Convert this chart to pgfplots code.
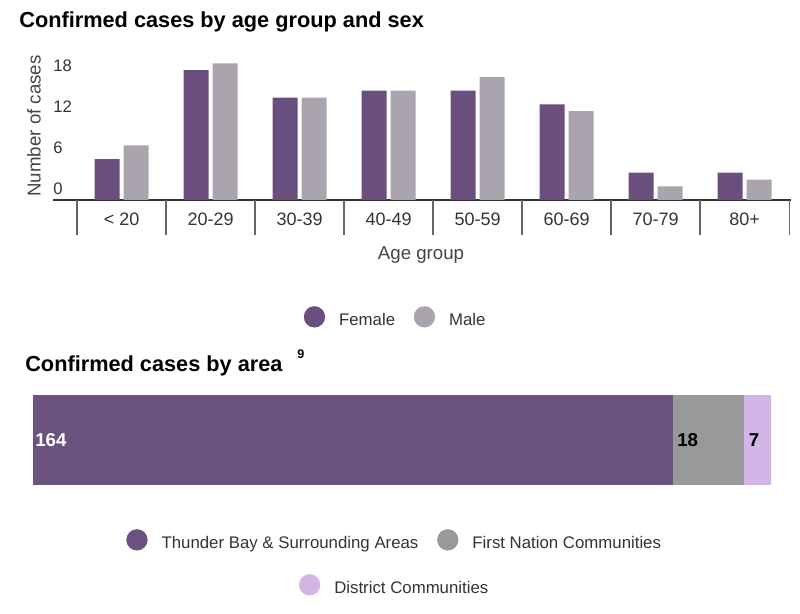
\documentclass[border=0pt]{standalone}
\usepackage{pgfplots}
\pgfplotsset{compat=1.18}
\usepackage{fontspec}
\setmainfont{Liberation Sans}

\definecolor{femalec}{HTML}{6A4F7E}
\definecolor{malec}{HTML}{A9A4AD}
\definecolor{tbc}{HTML}{6B527F}
\definecolor{fnc}{HTML}{999999}
\definecolor{distc}{HTML}{D0B5E6}
\definecolor{txt}{HTML}{333333}
\definecolor{lbl}{HTML}{444444}

% stacked xbar labels sit at the segment middle: shift them to its left end
\tikzset{
  barlabel/.style={anchor=west, inner sep=0pt,
    font=\bfseries\fontsize{14}{16}\selectfont},
}
\pgfplotsset{
  every axis title shift=0pt,
  dotlegend/.style={legend image code/.code={\fill[##1] (0pt,2.4pt) circle (8pt);}},
  dotlegendstyle/.style={
    legend style={draw=none, fill=none, inner sep=0pt, legend columns=-1,
      anchor=center, font=\fontsize{12.6}{15}\selectfont, text=txt,
      cells={inner sep=0pt},
      /tikz/every odd column/.append style={column sep=8.5pt},
      /tikz/every even column/.append style={column sep=12pt}},
    legend cell align=left},
}

\begin{document}
\begin{tikzpicture}
\useasboundingbox (0,0) rectangle (600pt,460.5pt);

% age group and sex
\begin{axis}[
  at={(39.75pt,310.5pt)}, anchor=south west,
  scale only axis, width=553.35pt, height=102.45pt,
  ybar=3pt, bar width=18.75pt,
  xmin=-0.77, xmax=7.52, ymin=0, ymax=20,
  clip=false,
  axis x line*=bottom, axis y line*=left,
  x axis line style={draw=txt, line width=0.9pt},
  y axis line style={draw=none},
  xtick={0,...,7},
  xticklabels={< 20,20-29,30-39,40-49,50-59,60-69,70-79,80+},
  xtick style={draw=none},
  xticklabel style={inner sep=0pt, yshift=-4.9pt, font=\fontsize{13.5}{15}\selectfont, text=txt},
  extra x ticks={-0.5,0.5,...,7.5},
  extra x tick labels={},
  extra x tick style={tick align=outside, major tick length=26.25pt,
    xtick style={draw=gray!80!black, line width=0.8pt}},
  ytick={0,6,12,18},
  ytick style={draw=none},
  yticklabel style={anchor=south west, inner sep=0pt, yshift=3.75pt,
    font=\fontsize{12.5}{14}\selectfont, text=txt},
  /pgf/number format/assume math mode=true,
  xlabel={Age group},
  xlabel style={at={(axis description cs:0.4988,-0.4026)}, anchor=center,
    font=\fontsize{14}{16}\selectfont, text=lbl},
  ylabel={Number of cases},
  ylabel style={at={(axis description cs:-0.0258,0.5417)}, anchor=center,
    font=\fontsize{14}{16}\selectfont, text=lbl},
  title={Confirmed cases by age group and sex},
  title style={at={(axis description cs:-0.046,1.2628)}, anchor=base west,
    inner sep=0pt, font=\bfseries\fontsize{16.3}{19}\selectfont},
  dotlegendstyle,
  legend style={at={(axis description cs:0.4649,-0.8638)}},
]
\addplot[fill=femalec, draw=none, dotlegend] coordinates
  {(0,6) (1,19) (2,15) (3,16) (4,16) (5,14) (6,4) (7,4)};
\addlegendentry{Female}
\addplot[fill=malec, draw=none, dotlegend] coordinates
  {(0,8) (1,20) (2,15) (3,16) (4,18) (5,13) (6,2) (7,3)};
\addlegendentry{Male}
\end{axis}

% area
\begin{axis}[
  at={(24.75pt,96.75pt)}, anchor=south west,
  scale only axis, width=553.5pt, height=67.5pt,
  xbar stacked, bar width=67.5pt,
  xmin=0, xmax=189, ymin=-0.5, ymax=0.5,
  hide axis, clip=false,
  title={Confirmed cases by area\hspace{11pt}\raisebox{9.75pt}{\fontsize{9.4}{10}\selectfont 9}},
  title style={at={(axis description cs:-0.0108,1.2556)}, anchor=base west,
    inner sep=0pt, font=\bfseries\fontsize{16.3}{19}\selectfont},
  point meta=explicit symbolic,
  dotlegendstyle,
  legend style={at={(axis description cs:0.4905,-0.6222)}},
]
\addplot[fill=tbc, draw=none, dotlegend, nodes near coords,
  nodes near coords style={barlabel, text=white, xshift=-238.6pt}]
  coordinates {(164,0) [164]};
\addlegendentry{Thunder Bay \& Surrounding Areas}
\addplot[fill=fnc, draw=none, dotlegend, nodes near coords,
  nodes near coords style={barlabel, text=black, xshift=-23.6pt}]
  coordinates {(18,0) [18]};
\addlegendentry{First Nation Communities}
\addplot[fill=distc, draw=none, nodes near coords,
  nodes near coords style={barlabel, text=black, xshift=-6.6pt}]
  coordinates {(7,0) [7]};
\end{axis}

% second legend row
\begin{axis}[
  at={(24.75pt,96.75pt)}, anchor=south west,
  scale only axis, width=553.5pt, height=67.5pt,
  xmin=0, xmax=1, ymin=0, ymax=1,
  hide axis,
  dotlegendstyle,
  legend style={at={(axis description cs:0.4905,-1.1222)}},
]
\addlegendimage{fill=distc, draw=none, dotlegend}
\addlegendentry{District Communities}
\end{axis}
\end{tikzpicture}
\end{document}
